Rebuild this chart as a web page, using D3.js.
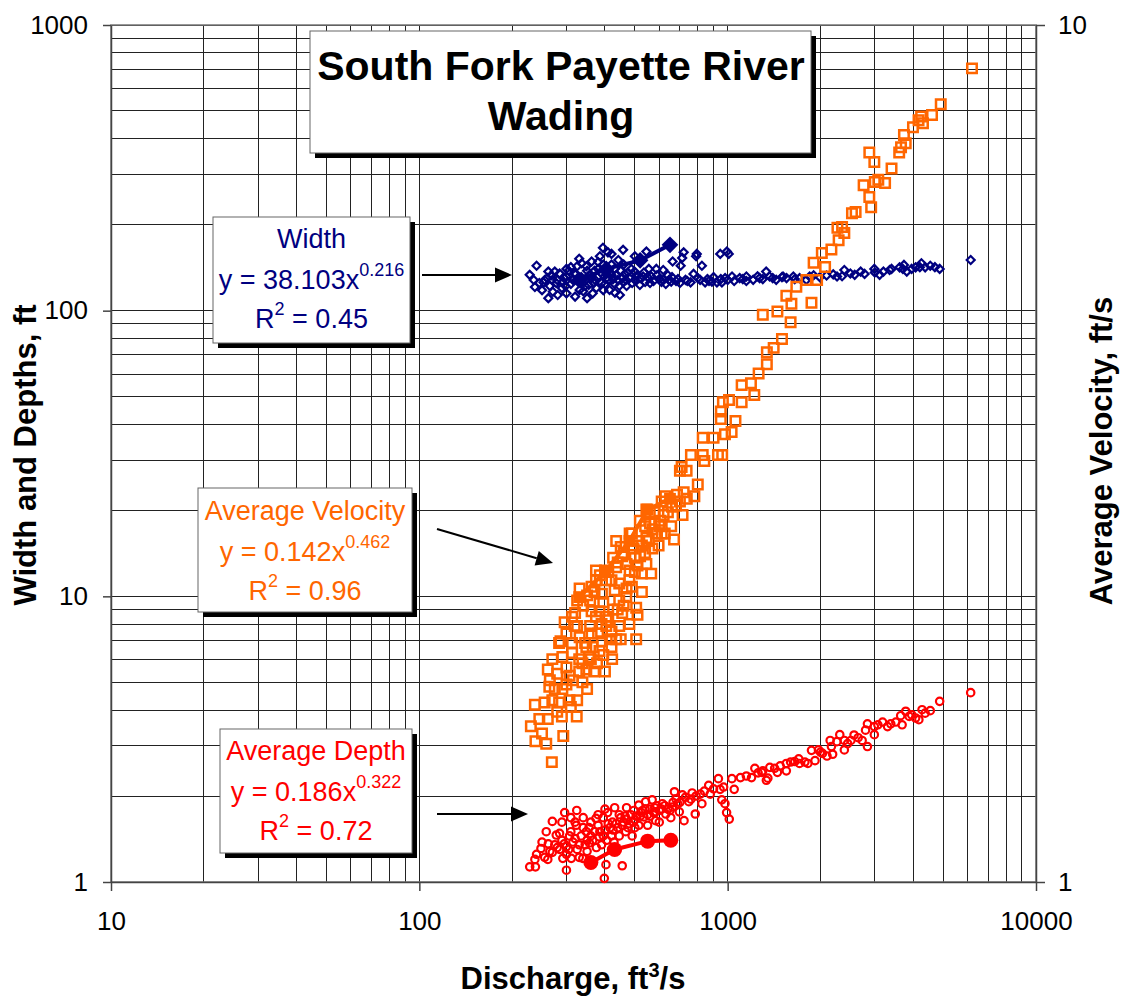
<!DOCTYPE html>
<html>
<head>
<meta charset='utf-8' />
<title>South Fork Payette River - Wading</title>
<style>
  body { margin: 0; background: #fff; }
  svg text { font-family: Arial, 'Liberation Sans', sans-serif; }
</style>
</head>
<body>
<div id="chart"></div>
<script src='https://d3js.org/d3.v7.min.js' charset='utf-8'></script>
<script>
  // [discharge ft3/s, width ft]
  const widthPoints = [
    [228,133.5],[240,143.6],[237,121],[253,125.6],[262,110.6],[262,137],[275,137],[271,116.5],[281,113.5],
    [292,125.6],[300,131.7],[310,142],[322,134.5],[331,118.2],[336,146.5],[350,110.6],[354,123],[362,148.7],
    [371,128.2],[385,155],[394,166],[404,134.5],[414,118.2],[409,160],[431,115.5],[442,150.4],[447,113.5],
    [458,163.3],[464,134.5],[487,140],[499,137],[519,123],[545,161],[532,131.7],[566,131.7],[587,140],
    [618,138.8],[618,128.2],[656,126.4],[663,148.7],[704,143.6],[720,160],[712,153],[730,128.2],[758,125.6],
    [775,134.5],[790,155],[794,158],[814,128.2],[825,143.6],[845,125.6],[889,126.4],[923,125.6],[946,158],
    [958,125.6],[981,130],[994,161],[1008,158],[1033,131.7],[1094,130],[1150,131.7],[1210,128.2],[1270,130],
    [1333,137],[1368,131.7],[1437,128.2],[1512,131.7],[1552,130],[1633,131.7],[1711,130],[1844,131.7],
    [1990,131],[2093,132.7],[2263,131.7],[2390,138.8],[2582,133.5],[2780,134.5],[2990,140],[3110,133.5],
    [3351,138.8],[3611,141.8],[3730,144.6],[3810,137],[4070,141.8],[4250,146.5],[4370,141.8],[4540,143.6],
    [4870,140],[6140,150.4],
    [290,120],[310,124],[330,127],[345,122],[360,130],[375,120],[390,125],[410,128],[420,133],[440,128],
    [460,126],[480,130],[300,115],[320,112],[340,117],[365,115],[380,140],[395,145],[350,138],[325,143],
    [420,145],[450,138],[470,122],[500,128],[540,126],[560,125],[600,129],[630,124],[680,127],[700,125],
    [250,118],[270,128],[265,122],[285,135],[305,138],[395,118],[430,124],[510,133],[555,140],[640,133],
    [860,129],[900,131],[1050,127],[1120,129],[1250,132],[1400,130],[1800,128],[2200,134],[2500,135],
    [3000,136],[3400,140],[3950,140],
    [255,128],[268,133],[278,125],[295,130],[298,122],[315,128],[318,135],[335,131],[342,126],[355,133],
    [368,125],[378,131],[388,136],[400,124],[405,130],[415,136],[425,129],[435,133],[445,122],[455,130],
    [468,128],[475,136],[490,125],[505,132],[520,130],[535,136],[550,131],[575,127],[590,133],[610,126],
    [645,128],[660,131],[690,129],[740,127],[800,130],[870,127],[950,129],[1000,128],[1150,127],[1300,129],
    [1500,131],[1650,129],[1900,133],[2350,132],[2700,137],[3200,137],[3700,140],[4200,142],[4700,142],
    [430,140],[370,138],[300,140],[280,128],[260,130],[245,125],[235,128],[348,143],[460,145],[380,148],
    [330,152],[500,155],[420,158]
  ]

  // [discharge ft3/s, average velocity ft/s]  (right axis)
  const velocityPoints = [
    [269,1.38],[230,1.52],[238,1.46],[258,1.45],[250,1.49],[237,1.61],[293,1.48],[324,1.56],[261,1.55],
    [270,1.63],[284,1.62],[307,1.63],[325,1.63],[264,1.69],[291,1.68],[338,1.71],[261,1.77],[280,1.75],
    [307,1.74],[348,1.77],[369,1.76],[270,1.82],[291,1.83],[313,1.85],[338,1.8],[377,1.8],[284,1.9],
    [313,1.9],[348,1.88],[384,1.86],[422,1.82],[287,1.91],[331,1.93],[362,1.95],[391,1.91],[415,1.92],
    [435,1.92],[325,1.99],[358,1.99],[404,1.99],[296,2.01],[319,1.99],[505,1.92],[374,2.04],[404,2.04],
    [445,1.99],[313,2.04],[510,2.05],[505,2.09],[455,2.06],[362,2.07],[384,2.07],[425,2.08],[325,2.13],
    [358,2.13],[395,2.12],[445,2.13],[331,2.2],[362,2.21],[391,2.17],[430,2.19],[469,2.15],[527,2.18],
    [374,2.25],[404,2.25],[445,2.23],[489,2.21],[374,2.31],[400,2.31],[435,2.33],[481,2.31],[527,2.29],
    [565,2.29],[425,2.39],[455,2.4],[500,2.39],[545,2.35],[450,2.46],[489,2.47],[527,2.47],[570,2.45],
    [489,2.55],[545,2.52],[590,2.55],[611,2.55],[670,2.51],[656,2.6],[519,2.64],[559,2.7],[545,2.72],
    [611,2.78],[714,2.68],[628,2.82],[685,2.83],[780,2.82],[800,2.91],[737,2.8],[700,3.02],
    [435,2.5],[481,2.55],[597,2.47],[625,2.55],[606,2.64],
    [280,1.58],[300,1.7],[300,1.78],[315,1.72],[330,1.82],[345,1.9],[355,1.83],[365,1.88],[380,1.95],
    [390,2.0],[410,2.02],[420,1.96],[440,2.08],[460,2.1],[470,2.2],[480,2.25],[500,2.3],[510,2.34],
    [520,2.4],[540,2.42],[555,2.5],[570,2.58],[580,2.62],[600,2.6],[620,2.68],[640,2.7],[660,2.74],
    [680,2.75],[700,2.78],[720,2.85],[300,1.95],[320,2.06],[340,2.1],[350,2.16],[370,2.18],[385,2.28],
    [410,2.3],[420,2.25],[440,2.36],[460,2.42],[470,2.35],[495,2.45],[510,2.5],[540,2.6],[560,2.62],
    [580,2.7],[330,1.76],[350,1.68],[400,1.76],[420,1.88],[450,1.92],[480,2.0],[290,1.56],[310,1.6],
    [275,1.68],[255,1.62],[245,1.55],[265,1.72],[360,1.82],[395,1.84],
    [709,3.05],[736,3.02],[760,3.15],[830,3.15],[840,3.1],[930,3.15],[960,3.15],[830,3.3],[900,3.3],
    [980,3.33],[1030,3.35],[950,3.47],[1060,3.45],[950,3.54],[1010,3.65],[965,3.63],[1110,3.63],[1220,3.7],
    [1110,3.8],[1190,3.82],[1260,3.92],[1340,4.02],[1340,4.15],[1410,4.2],[1500,4.3],
    [1300,4.59],[1450,4.63],[1600,4.5],[1610,4.73],[1550,4.83],[1870,4.74],[1670,4.95],[1800,5.04],
    [1950,5.04],[1900,5.28],[2070,5.22],[2020,5.42],[2170,5.47],[2290,5.61],[2390,5.72],[2270,5.8],
    [2350,5.81],[2530,6.03],[2600,6.05],[2920,6.13],[2880,6.3],[2760,6.5],[3000,6.56],[3240,6.54],
    [3080,6.6],[3400,6.8],[3600,7.1],[2990,6.92],[2880,7.1],[3650,7.2],[3780,7.28],[3730,7.44],
    [3990,7.6],[4160,7.74],[4300,7.68],[4600,7.85],[4240,7.82],[4910,8.08],[6200,8.9]
  ]

  // [discharge ft3/s, average depth ft]
  const depthPoints = [
    [228,1.13],[238,1.13],[237,1.2],[248,1.31],[258,1.5],[261,1.2],[270,1.63],[278,1.46],[285,1.3],
    [292,1.21],[296,1.75],[300,1.1],[311,1.21],[307,1.45],[323,1.58],[324,1.78],[339,1.21],[348,1.5],
    [356,1.37],[374,1.67],[383,1.44],[398,1.03],[403,1.15],[408,1.75],[423,1.62],[428,1.38],[455,1.14],
    [445,1.72],[467,1.5],[490,1.45],[496,1.78],[515,1.86],[535,1.69],[542,1.91],[569,1.94],[584,1.64],
    [584,1.76],[614,1.88],[630,1.73],[654,1.68],[662,1.83],[672,2.07],[688,1.88],[697,1.76],[713,2.02],
    [722,1.64],[748,1.91],[785,1.73],[767,2.05],[815,2.03],[825,1.88],[868,2.18],[878,2.03],[933,2.3],
    [945,2.11],[957,1.94],[980,1.88],[992,1.75],[1012,1.66],[970,2.15],[1032,2.3],[1050,2.11],[1100,2.32],
    [1195,2.32],[1255,2.41],[1335,2.27],[1350,2.31],
    [1225,2.5],[1290,2.42],[1370,2.52],[1420,2.5],[1450,2.42],[1550,2.45],[1550,2.6],[1600,2.63],
    [1650,2.64],[1710,2.6],[1780,2.63],[1820,2.6],[1870,2.89],[1920,2.66],[1970,2.9],[2030,2.82],
    [2100,2.76],[2150,3.13],[2170,2.98],[2190,2.8],[2260,3.1],[2310,3.28],[2390,2.9],[2390,3.13],
    [2510,3.13],[2570,3.27],[2730,3.13],[2840,2.98],[2800,3.4],[2840,3.58],[2990,3.5],[2990,3.28],
    [3070,3.55],[3180,3.63],[3380,3.58],[3510,3.63],[3640,3.82],[3680,3.55],[3780,3.96],[3880,3.8],
    [4070,3.75],[4170,3.7],[4270,4.01],[4370,3.9],[4540,3.98],[4870,4.29],[6140,4.6],
    [250,1.38],[265,1.28],[275,1.35],[290,1.4],[300,1.33],[310,1.5],[320,1.42],[330,1.35],[340,1.55],
    [350,1.28],[360,1.45],[370,1.5],[380,1.58],[390,1.35],[400,1.52],[410,1.6],[420,1.45],[440,1.55],
    [460,1.62],[480,1.6],[500,1.65],[520,1.7],[550,1.72],[560,1.8],[600,1.78],[640,1.8],[300,1.25],
    [330,1.22],[350,1.4],[420,1.3],[470,1.66],[530,1.78],[580,1.82],[270,1.27],[285,1.48],[360,1.62],
    [395,1.68],[450,1.68],[500,1.55],[550,1.58],[600,1.62],
    [240,1.25],[255,1.22],[262,1.36],[280,1.32],[295,1.36],[305,1.3],[315,1.38],[325,1.3],[335,1.45],
    [345,1.35],[355,1.55],[365,1.4],[375,1.32],[385,1.5],[395,1.45],[405,1.4],[415,1.55],[425,1.52],
    [435,1.6],[445,1.45],[455,1.58],[465,1.7],[475,1.55],[485,1.72],[495,1.62],[505,1.7],[515,1.58],
    [525,1.75],[540,1.8],[560,1.7],[575,1.75],[590,1.85],[610,1.8],[625,1.85],[650,1.78],[665,1.9],
    [680,1.95],[700,1.9],[730,1.98],[760,1.95],[790,2.0],[840,2.08],[900,2.12],[1150,2.35],[1300,2.45],
    [1480,2.55],[1700,2.7],[2000,2.85],[2450,3.05],[2650,3.2],[3300,3.5],[3950,3.85],[320,1.62],
    [340,1.68],[380,1.72],[400,1.8],[430,1.82],[470,1.82],[290,1.62],[310,1.68]
  ]

  // bold connected series drawn over each cloud
  const widthHighlight = [[330,128],[404,140],[520,150],[650,170]]
  const velocityHighlight = [[330,2.15],[400,2.3],[480,2.5],[550,2.72],[650,2.8]]
  const depthHighlight = [[360,1.17],[430,1.3],[550,1.39],[654,1.4]]

  const xTicks = [10, 100, 1000, 10000]
  const leftTicks = [1, 10, 100, 1000]
  const rightTicks = [1, 10]

  const boxes = [
    { name: 'Width', a: '38.103', b: '0.216', r2: '0.45', color: '#000080', x: 213, y: 217, w: 197, h: 126, ty: 248 },
    { name: 'Average Velocity', a: '0.142', b: '0.462', r2: '0.96', color: '#FF6600', x: 198, y: 488, w: 214, h: 124, ty: 520 },
    { name: 'Average Depth', a: '0.186', b: '0.322', r2: '0.72', color: '#FF0000', x: 220, y: 729, w: 192, h: 124, ty: 760 }
  ]
  const arrows = [
    [[422, 275], [512, 275]],
    [[437, 529], [553, 563]],
    [[437, 814], [528, 814]]
  ]

  const W = 1123, H = 996
  const pL = 111, pR = 1036, pT = 25, pB = 882

  const svg = d3.select('#chart').append('svg')
      .attr('width', W)
      .attr('height', H)

  const x = d3.scaleLog().domain([10, 10000]).range([pL, pR])
  const yL = d3.scaleLog().domain([1, 1000]).range([pB, pT])
  const yR = d3.scaleLog().domain([1, 10]).range([pB, pT])

  // gridlines at every 1..9 of each decade
  const minor = (lo, hi) => {
    const out = []
    for (let d = lo; d < hi; d *= 10) {
      for (let k = 1; k < 10; k++) out.push(d * k)
    }
    out.push(hi)
    return out
  }

  const grid = svg.append('g')
      .attr('stroke', '#222')
      .attr('stroke-width', 1)
      .attr('shape-rendering', 'crispEdges')

  grid.selectAll('line.v').data(minor(10, 10000)).enter()
    .append('line')
      .attr('x1', d => x(d)).attr('x2', d => x(d))
      .attr('y1', pT).attr('y2', pB)

  grid.selectAll('line.h').data(minor(1, 1000)).enter()
    .append('line')
      .attr('y1', d => yL(d)).attr('y2', d => yL(d))
      .attr('x1', pL).attr('x2', pR)

  svg.append('rect')
      .attr('x', pL).attr('y', pT)
      .attr('width', pR - pL).attr('height', pB - pT)
      .attr('fill', 'none')
      .attr('stroke', '#777')
      .attr('stroke-width', 1.5)

  // axes
  const styleAxis = g => {
    g.selectAll('path, line').attr('stroke', '#444').attr('stroke-width', 1.5)
    g.selectAll('text').attr('font-size', 26).attr('fill', '#000')
      .attr('font-family', "Arial, 'Liberation Sans', sans-serif")
  }

  svg.append('g')
      .attr('transform', `translate(0,${pB})`)
      .call(d3.axisBottom(x).tickValues(xTicks).tickFormat(d3.format('d'))
        .tickSize(9).tickSizeOuter(0).tickPadding(21))
      .call(styleAxis)

  svg.append('g')
      .attr('transform', `translate(${pL},0)`)
      .call(d3.axisLeft(yL).tickValues(leftTicks).tickFormat(d3.format('d'))
        .tickSize(8).tickSizeOuter(0).tickPadding(15))
      .call(styleAxis)

  svg.append('g')
      .attr('transform', `translate(${pR},0)`)
      .call(d3.axisRight(yR).tickValues(rightTicks).tickFormat(d3.format('d'))
        .tickSize(9).tickSizeOuter(0).tickPadding(13))
      .call(styleAxis)

  // axis titles
  svg.append('text')
      .attr('transform', `translate(36,455) rotate(-90)`)
      .attr('text-anchor', 'middle')
      .attr('font-size', 31).attr('font-weight', 'bold')
      .text('Width and Depths, ft')

  svg.append('text')
      .attr('transform', `translate(1112,451) rotate(-90)`)
      .attr('text-anchor', 'middle')
      .attr('font-size', 31).attr('font-weight', 'bold')
      .text('Average Velocity, ft/s')

  const xt = svg.append('text')
      .attr('x', 573).attr('y', 989)
      .attr('text-anchor', 'middle')
      .attr('font-size', 31).attr('font-weight', 'bold')
  xt.append('tspan').text('Discharge, ft')
  xt.append('tspan').attr('font-size', 20).attr('dy', -12).text('3')
  xt.append('tspan').attr('dy', 12).text('/s')

  // series
  const diamond = d3.symbol(d3.symbolSquare, 32)
  const square = d3.symbol(d3.symbolSquare, 90)

  svg.append('g').selectAll('path').data(widthPoints).enter()
    .append('path')
      .attr('d', diamond)
      .attr('transform', d => `translate(${x(d[0])},${yL(d[1])}) rotate(45)`)
      .attr('fill', 'none').attr('stroke', '#000080').attr('stroke-width', 2.2)

  svg.append('path').datum(widthHighlight)
      .attr('d', d3.line().x(d => x(d[0])).y(d => yL(d[1])))
      .attr('fill', 'none').attr('stroke', '#000080').attr('stroke-width', 4)
  svg.append('g').selectAll('path').data(widthHighlight).enter()
    .append('path')
      .attr('d', d3.symbol(d3.symbolSquare, 140))
      .attr('transform', d => `translate(${x(d[0])},${yL(d[1])}) rotate(45)`)
      .attr('fill', '#000080')

  svg.append('g').selectAll('path').data(velocityPoints).enter()
    .append('path')
      .attr('d', square)
      .attr('transform', d => `translate(${x(d[0])},${yR(d[1])})`)
      .attr('fill', 'none').attr('stroke', '#FF6600').attr('stroke-width', 2.5)

  svg.append('path').datum(velocityHighlight)
      .attr('d', d3.line().x(d => x(d[0])).y(d => yR(d[1])))
      .attr('fill', 'none').attr('stroke', '#FF6600').attr('stroke-width', 4)
  svg.append('g').selectAll('path').data(velocityHighlight).enter()
    .append('path')
      .attr('d', d3.symbol(d3.symbolSquare, 140))
      .attr('transform', d => `translate(${x(d[0])},${yR(d[1])})`)
      .attr('fill', '#FF6600')

  svg.append('g').selectAll('circle').data(depthPoints).enter()
    .append('circle')
      .attr('cx', d => x(d[0])).attr('cy', d => yL(d[1]))
      .attr('r', 3.7)
      .attr('fill', 'none').attr('stroke', '#FF0000').attr('stroke-width', 2.2)

  svg.append('path').datum(depthHighlight)
      .attr('d', d3.line().x(d => x(d[0])).y(d => yL(d[1])))
      .attr('fill', 'none').attr('stroke', '#FF0000').attr('stroke-width', 4)
  svg.append('g').selectAll('circle.hi').data(depthHighlight).enter()
    .append('circle')
      .attr('cx', d => x(d[0])).attr('cy', d => yL(d[1]))
      .attr('r', 7.5)
      .attr('fill', '#FF0000')

  // boxes with drop shadow
  const shadowBox = (bx, by, bw, bh) => {
    svg.append('rect')
        .attr('x', bx + 5).attr('y', by + 5)
        .attr('width', bw).attr('height', bh)
        .attr('fill', '#000')
    svg.append('rect')
        .attr('x', bx).attr('y', by)
        .attr('width', bw).attr('height', bh)
        .attr('fill', '#fff').attr('stroke', '#666').attr('stroke-width', 1)
  }

  shadowBox(310, 31, 501, 122)
  svg.append('text')
      .attr('x', 561).attr('y', 80)
      .attr('text-anchor', 'middle')
      .attr('font-size', 41).attr('font-weight', 'bold')
      .text('South Fork Payette River')
  svg.append('text')
      .attr('x', 561).attr('y', 130)
      .attr('text-anchor', 'middle')
      .attr('font-size', 41).attr('font-weight', 'bold')
      .text('Wading')

  boxes.forEach(b => {
    shadowBox(b.x, b.y, b.w, b.h)
    const cx = b.x + b.w / 2
    const g = svg.append('g').attr('fill', b.color).attr('font-size', 27).attr('text-anchor', 'middle')
    g.append('text').attr('x', cx).attr('y', b.ty).text(b.name)
    const eq = g.append('text').attr('x', cx).attr('y', b.ty + 41)
    eq.append('tspan').text('y = ' + b.a + 'x')
    eq.append('tspan').attr('font-size', 18).attr('dy', -13).text(b.b)
    const r = g.append('text').attr('x', cx).attr('y', b.ty + 80)
    r.append('tspan').text('R')
    r.append('tspan').attr('font-size', 18).attr('dy', -13).text('2')
    r.append('tspan').attr('dy', 13).text(' = ' + b.r2)
  })

  // arrows
  arrows.forEach(([p0, p1]) => {
    const ang = Math.atan2(p1[1] - p0[1], p1[0] - p0[0])
    const len = 17, half = 7.5
    const bx = p1[0] - len * Math.cos(ang), by = p1[1] - len * Math.sin(ang)
    svg.append('line')
        .attr('x1', p0[0]).attr('y1', p0[1]).attr('x2', bx).attr('y2', by)
        .attr('stroke', '#000').attr('stroke-width', 2)
    svg.append('path')
        .attr('d', `M${p1[0]},${p1[1]}L${bx - half * Math.sin(ang)},${by + half * Math.cos(ang)}L${bx + half * Math.sin(ang)},${by - half * Math.cos(ang)}Z`)
        .attr('fill', '#000')
  })
</script>
</body>
</html>
